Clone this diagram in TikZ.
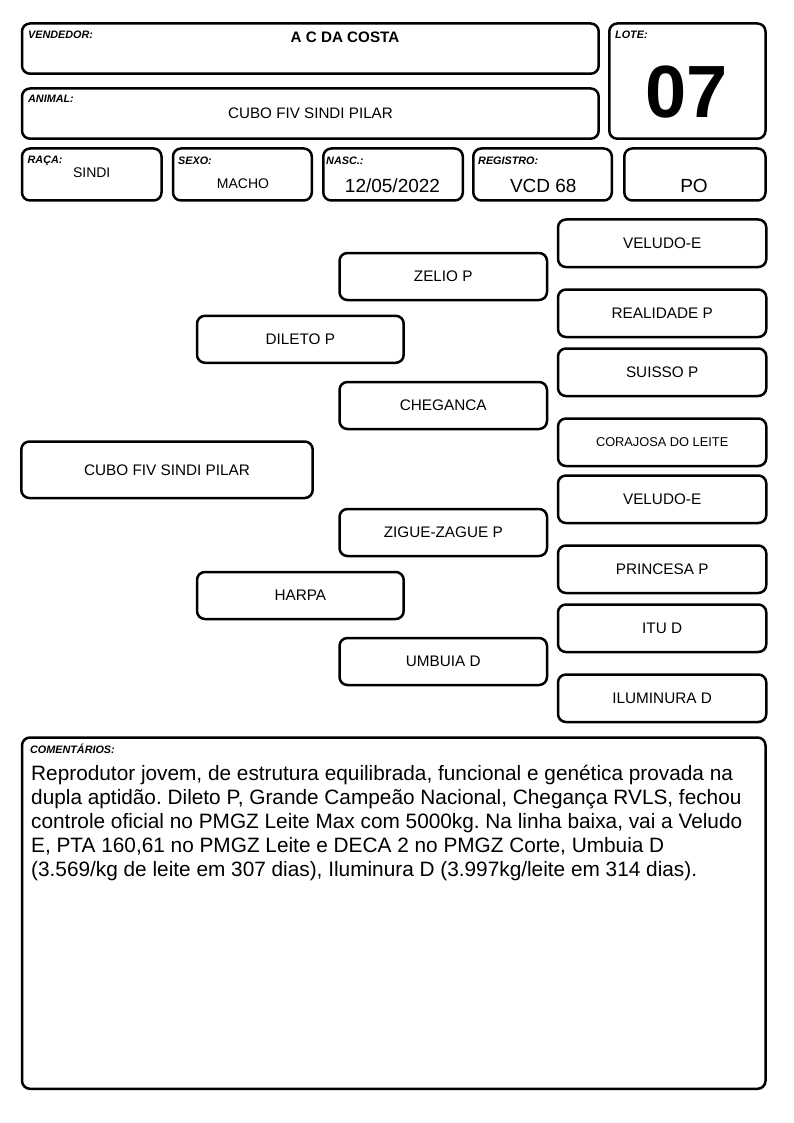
\documentclass[tikz,border=0pt]{standalone}
\usepackage{fontspec}
\setmainfont{Liberation Sans}
\frenchspacing
\newcommand\mybox[7]{%
  \pgfmathsetmacro\mybw{#4-#2}\pgfmathsetmacro\mybh{#5-#3}%
  \pgfmathsetmacro\mycx{(#2+#4)/2}\pgfmathsetmacro\mycy{(#3+#5)/2}%
  \node[#6, minimum width=\mybw pt, minimum height=\mybh pt] (#1) at (\mycx,\mycy) {#7};}
\tikzset{
  box/.style={draw, line width=2.5pt, rounded corners=8pt, inner sep=0pt, fill=white},
  lbl/.style={font=\fontsize{10.8}{12}\selectfont\bfseries\itshape, anchor=base west, inner sep=0pt},
  ped/.style={box, font=\fontsize{15.3}{18}\selectfont},
  val/.style={anchor=base, inner sep=0pt, font=\fontsize{15.2}{18}\selectfont},
  bigval/.style={anchor=base, inner sep=0pt, font=\fontsize{19}{22}\selectfont},
}
\begin{document}
\begin{tikzpicture}[x=1pt,y=-1pt]
\useasboundingbox[fill=white] (0,0) rectangle (794,1123);
% header boxes
\mybox{vend}{22}{23.5}{598.7}{73.7}{box}{}
\mybox{anim}{22}{88.5}{598.7}{138.7}{box}{}
\mybox{lote}{609.3}{23.5}{765.5}{138.7}{box}{}
\mybox{raca}{22}{148.5}{161.5}{200.5}{box}{}
\mybox{sexo}{173}{148.5}{311.8}{200.5}{box}{}
\mybox{nasc}{323.3}{148.5}{462.8}{200.5}{box}{}
\mybox{regi}{473.3}{148.5}{611.8}{200.5}{box}{}
\mybox{po}{624.3}{148.5}{765.5}{200.5}{box}{}
% labels
\node[lbl] (lvend) at (28,39) {VENDEDOR:};
\node[lbl] (lanim) at (28,103) {ANIMAL:};
\node[lbl] (llote) at (615,39) {LOTE:};
\node[lbl] (lraca) at (27.5,163.5) {RAÇA:};
\node[lbl] (lsexo) at (178,165) {SEXO:};
\node[lbl] (lnasc) at (326,165) {NASC.:};
\node[lbl] (lregi) at (478,165) {REGISTRO:};
% values
\node[val, font=\fontsize{15.2}{18}\selectfont\bfseries] (vvend) at (345,43) {A C DA COSTA};
\node[val] (vanim) at (310.5,119) {CUBO FIV SINDI PILAR};
\node[anchor=base, inner sep=0pt, font=\fontsize{74}{80}\selectfont\bfseries] (vlote) at (686.7,118) {07};
\node[val, font=\fontsize{14}{16}\selectfont] (vraca) at (91.7,178) {SINDI};
\node[val, font=\fontsize{14}{16}\selectfont] (vsexo) at (243,189) {MACHO};
\node[bigval] (vnasc) at (392.5,193) {12/05/2022};
\node[bigval] (vregi) at (543.3,192.5) {VCD 68};
\node[bigval] (vpo) at (694,192.5) {PO};
% pedigree
\mybox{p0}{21.3}{441.5}{312.7}{498}{ped}{CUBO FIV SINDI PILAR}
\mybox{p1}{197}{315.8}{403.7}{362.8}{ped}{DILETO P}
\mybox{p2}{197}{572}{403.7}{619}{ped}{HARPA}
\mybox{p11}{339.5}{253}{547}{300}{ped}{ZELIO P}
\mybox{p12}{339.5}{382}{547}{429}{ped}{CHEGANCA}
\mybox{p21}{339.5}{509}{547}{556}{ped}{ZIGUE-ZAGUE P}
\mybox{p22}{339.5}{638}{547}{685}{ped}{UMBUIA D}
\mybox{p111}{558}{219.5}{766.3}{267}{ped}{VELUDO-E}
\mybox{p112}{558}{289.5}{766.3}{337}{ped}{REALIDADE P}
\mybox{p121}{558}{348.5}{766.3}{396}{ped}{SUISSO P}
\mybox{p122}{558}{418.5}{766.3}{466}{ped, font=\fontsize{12.8}{15}\selectfont}{CORAJOSA DO LEITE}
\mybox{p211}{558}{475.5}{766.3}{523}{ped}{VELUDO-E}
\mybox{p212}{558}{545.5}{766.3}{593}{ped}{PRINCESA P}
\mybox{p221}{558}{604.5}{766.3}{652}{ped}{ITU D}
\mybox{p222}{558}{674.5}{766.3}{722}{ped}{ILUMINURA D}
% comments
\mybox{com}{22}{737.5}{765.5}{1088.8}{box}{}
\node[lbl] (lcom) at (30,753) {COMENTÁRIOS:};
\node[anchor=base west, inner sep=0pt, align=left, font=\fontsize{20.8}{24}\selectfont] (tcom) at (31,876)
{Reprodutor jovem, de estrutura equilibrada, funcional e genética provada na\\
dupla aptidão. Dileto P, Grande Campeão Nacional, Chegança RVLS, fechou\\
controle oficial no PMGZ Leite Max com 5000kg. Na linha baixa, vai a Veludo\\
E, PTA 160,61 no PMGZ Leite e DECA 2 no PMGZ Corte, Umbuia D\\
(3.569/kg de leite em 307 dias), Iluminura D (3.997kg/leite em 314 dias).};
\end{tikzpicture}
\end{document}
